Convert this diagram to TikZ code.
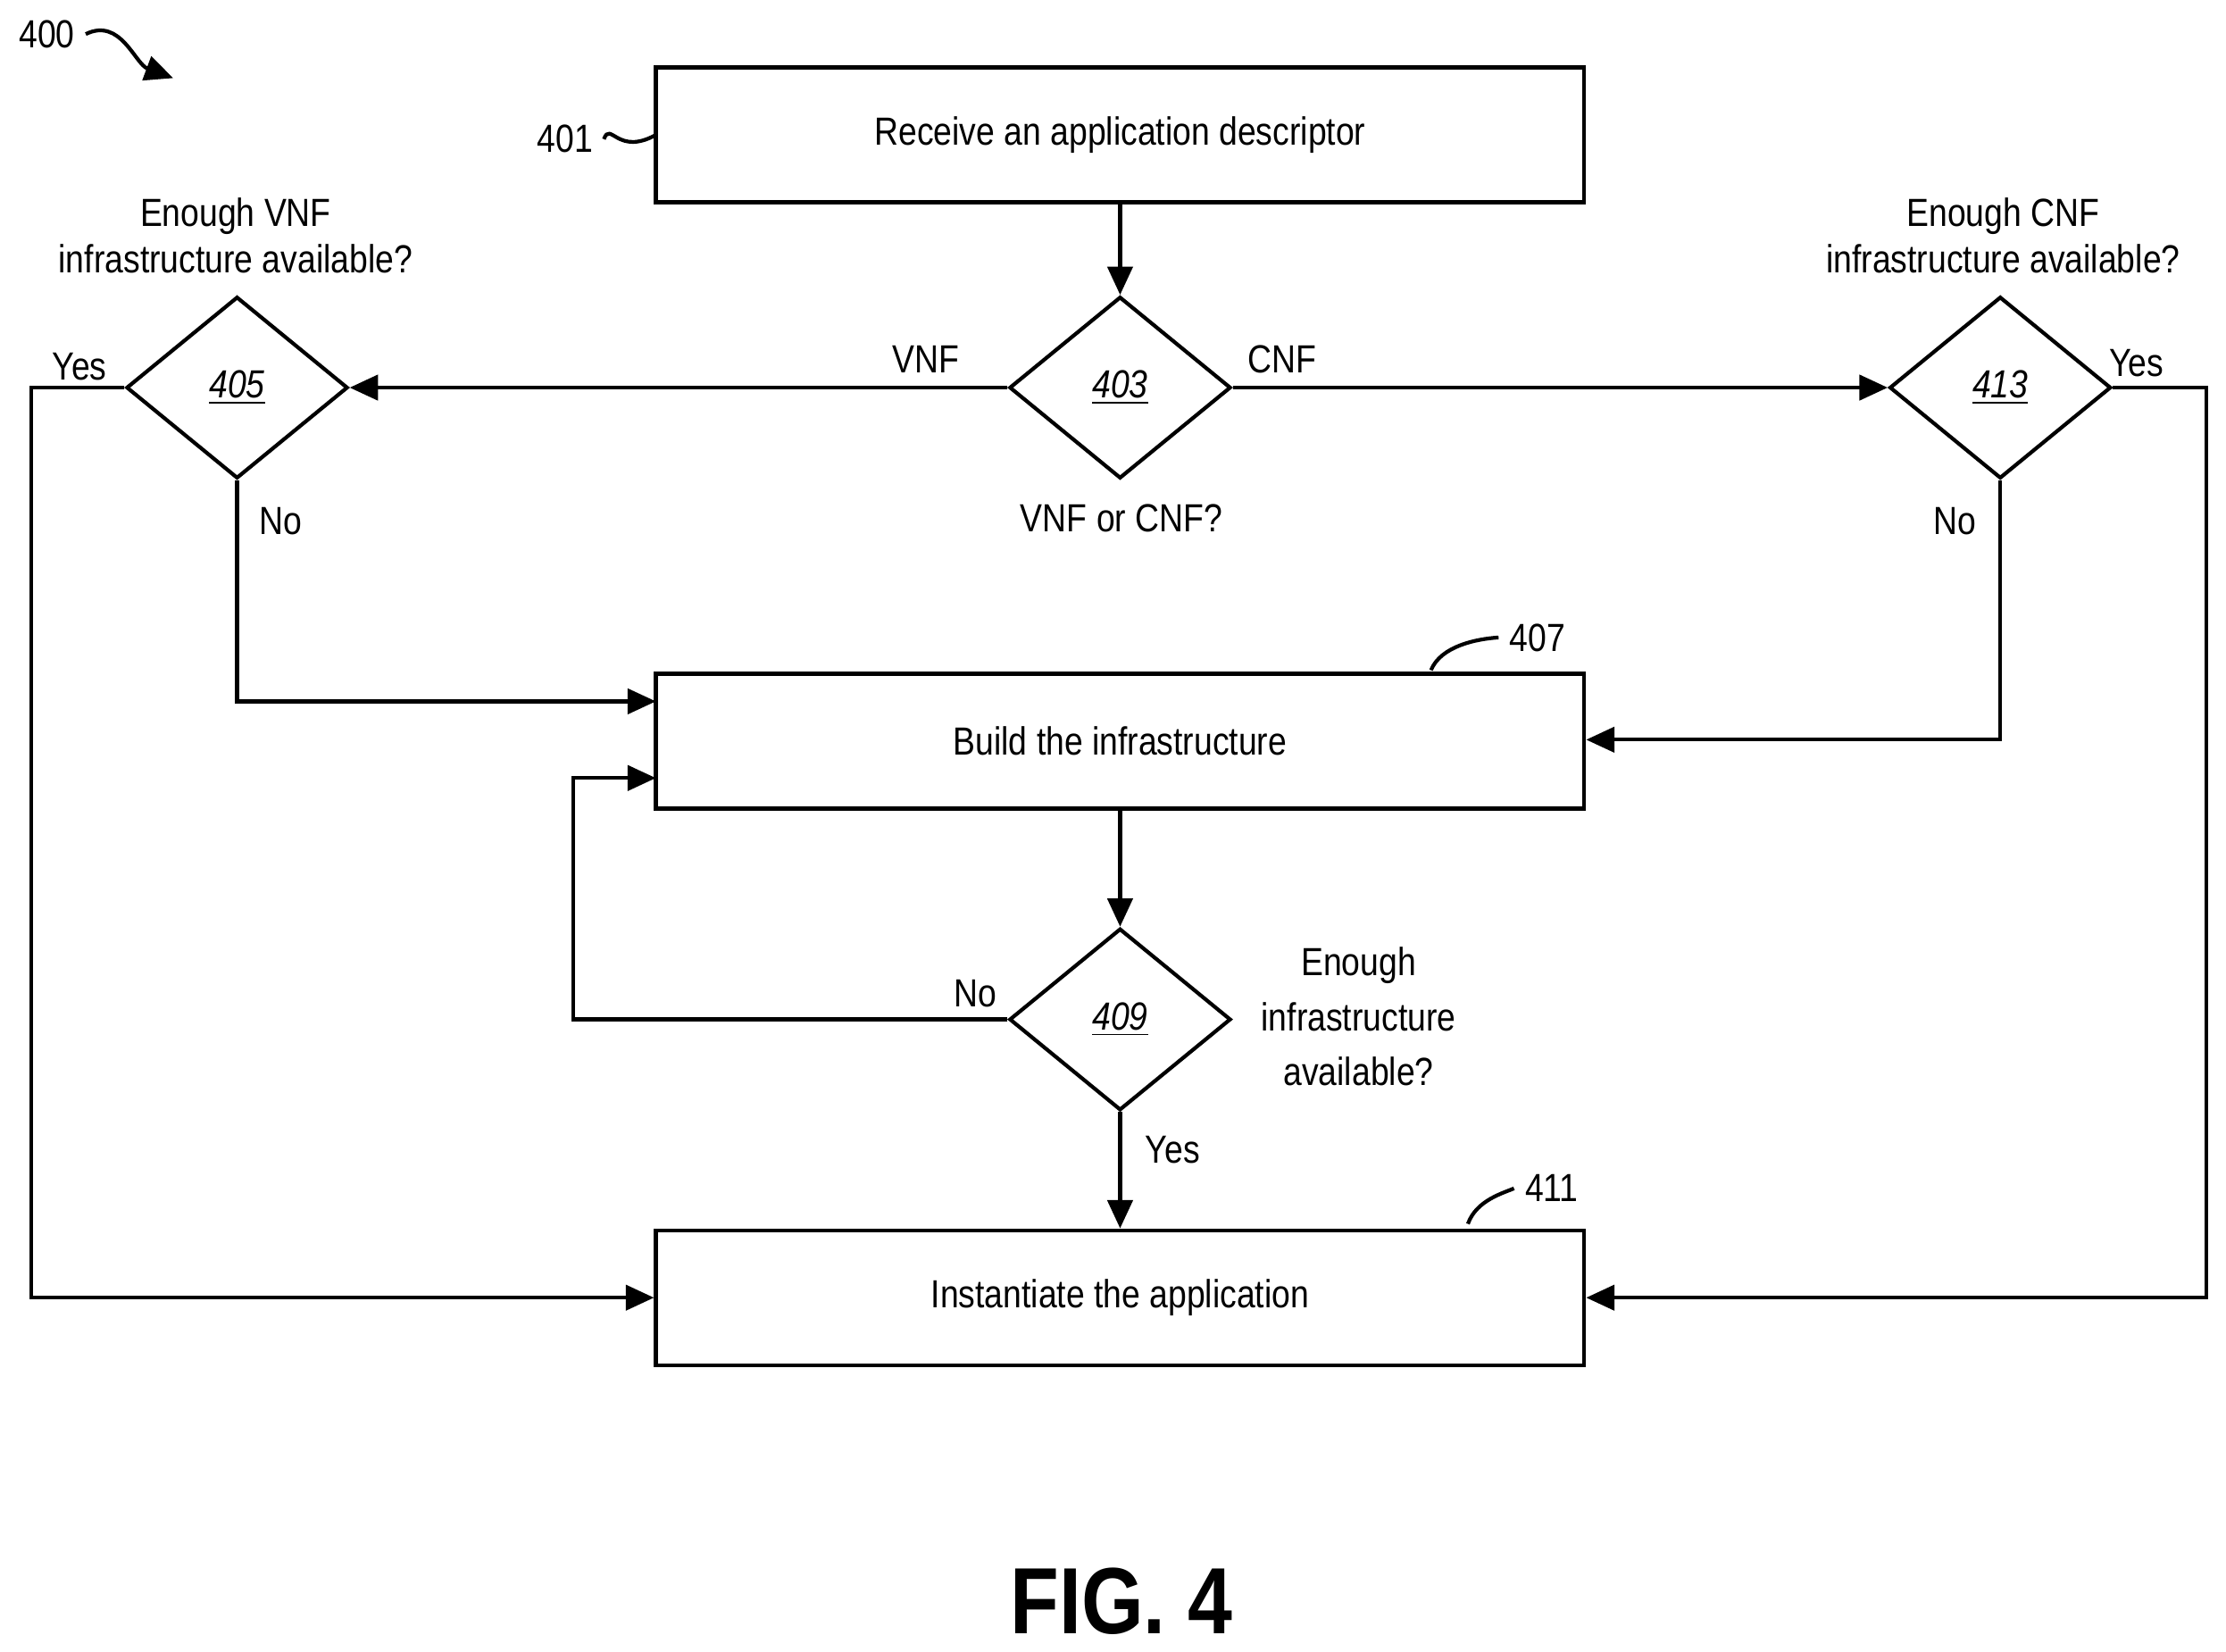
\documentclass[tikz,border=0pt]{standalone}
\usepackage{fontspec}
\setmainfont{Liberation Sans}[FakeStretch=0.85]
\usetikzlibrary{shapes.geometric,arrows.meta}
\begin{document}
\begin{tikzpicture}[x=0.0159cm,y=-0.0159cm,
  every node/.style={font=\fontsize{12.5}{15}\selectfont},
  box/.style={draw,line width=1.2pt,minimum width=654*0.0159cm,minimum height=95*0.0159cm,inner sep=0pt},
  dia/.style={draw,line width=1.2pt,diamond,minimum width=156*0.0159cm,minimum height=128*0.0159cm,inner sep=0pt,aspect=1.22},
  ln/.style={line width=1.2pt},
  arr/.style={ln,-{Triangle[length=9pt,width=8pt]}},
  num/.style={font=\fontsize{12.5}{15}\selectfont\itshape}]
\useasboundingbox (0,0) rectangle (1568,1163);
\node[box] (b401) at (789,95) {Receive an application descriptor};
\node[box] (b407) at (789,522) {Build the infrastructure};
\node[box] (b411) at (789,914) {Instantiate the application};
\node[dia] (d403) at (789,273) {};
\node[num] at (d403) {\underline{403}};
\node[dia] (d405) at (167,273) {};
\node[num] at (d405) {\underline{405}};
\node[dia] (d413) at (1409,273) {};
\node[num] at (d413) {\underline{413}};
\node[dia] (d409) at (789,718) {};
\node[num] at (d409) {\underline{409}};
\coordinate (c1) at (22,273); \coordinate (c2) at (22,914);
\coordinate (c3) at (167,494); \coordinate (c3b) at (462,494);
\coordinate (c4) at (1409,521);
\coordinate (c5) at (1554,273); \coordinate (c6) at (1554,914);
\coordinate (c7) at (404,718); \coordinate (c8) at (404,548); \coordinate (c8b) at (462,548);
\draw[arr] (b401) -- (d403);
\draw[arr] (d403.west) -- (d405.east);
\draw[arr] (d403.east) -- (d413.west);
\draw[arr] (d405.west) -- (c1) -- (c2) -- (b411.west);
\draw[arr] (d405.south) -- (c3) -- (c3b);
\draw[arr] (d413.south) -- (c4) -- (b407.east |- c4);
\draw[arr] (d413.east) -- (c5) -- (c6) -- (b411.east);
\draw[arr] (b407) -- (d409);
\draw[arr] (d409.west) -- (c7) -- (c8) -- (c8b);
\draw[arr] (d409) -- (b411);
\node at (56,258) {Yes};
\node at (198,367) {No};
\node at (652,253) {VNF};
\node at (903,253) {CNF};
\node at (790,365) {VNF or CNF?};
\node at (1505,256) {Yes};
\node at (1377,367) {No};
\node at (687,700) {No};
\node at (826,810) {Yes};
\node[align=center] at (166,166) {Enough VNF\\infrastructure available?};
\node[align=center] at (1411,166) {Enough CNF\\infrastructure available?};
\node[align=center,font=\fontsize{12.5}{17.5}\selectfont] at (957,716) {Enough\\infrastructure\\available?};
\node (l401) at (398,98) {401};
\draw[ln] (l401.east) .. controls (430,85) and (435,110) .. (462,95);
\node (l407) at (1083,449) {407};
\draw[ln] (1008,472) .. controls (1015,455) and (1040,450) .. (l407.west);
\node (l411) at (1093,837) {411};
\draw[ln] (1034,862) .. controls (1040,845) and (1060,840) .. (l411.west);
\node (l400) at (33,24) {400};
\coordinate (a400) at (122,55);
\draw[arr] (l400.east) .. controls (85,12) and (95,45) .. (a400);
\node[font=\fontsize{30}{36}\selectfont\bfseries] at (790,1128) {FIG. 4};
\end{tikzpicture}
\end{document}
